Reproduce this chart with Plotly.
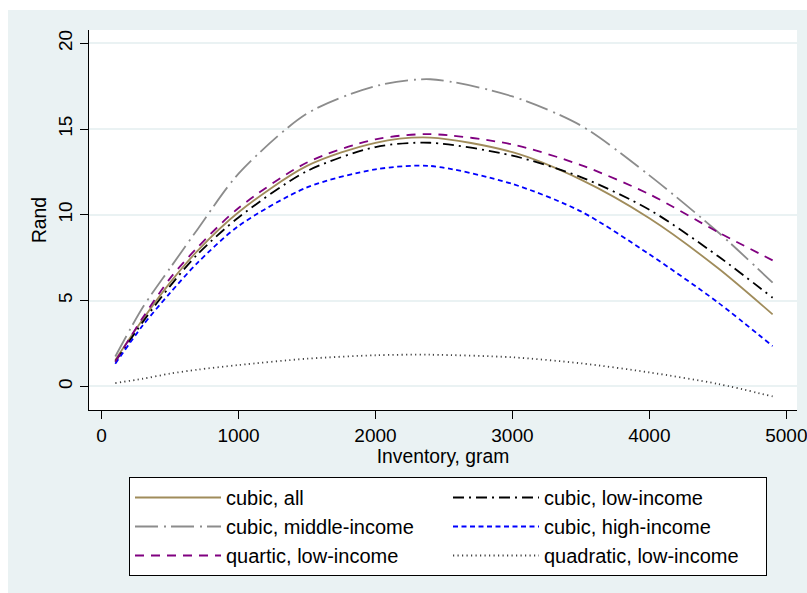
import plotly.graph_objects as go

inventory = [100, 300, 500, 700, 1000, 1500, 2000, 2400, 3000, 3500, 4000, 4500, 4900]

cubic_all = [1.55, 3.9, 6.05, 7.9, 10.15, 12.85, 14.2, 14.5, 13.65, 12.05, 9.8, 6.9, 4.2]
cubic_low = [1.45, 3.75, 5.85, 7.7, 9.85, 12.55, 13.95, 14.2, 13.45, 12.2, 10.3, 7.6, 5.17]
cubic_middle = [1.75, 4.6, 6.9, 9.15, 12.4, 15.9, 17.5, 17.9, 16.9, 15.2, 12.3, 9.0, 6.05]
cubic_high = [1.33, 3.55, 5.45, 7.2, 9.35, 11.6, 12.65, 12.85, 11.8, 10.2, 7.7, 4.9, 2.35]
quartic_low = [1.45, 4.0, 6.3, 8.1, 10.4, 13.05, 14.4, 14.7, 14.1, 12.9, 11.2, 9.0, 7.35]
quadratic_low = [0.2, 0.45, 0.75, 0.98, 1.25, 1.62, 1.82, 1.85, 1.7, 1.35, 0.82, 0.15, -0.58]

x_ticks = [0, 1000, 2000, 3000, 4000, 5000]
y_ticks = [0, 5, 10, 15, 20]

series = [
    ("cubic, all", cubic_all, "#A08C5B", "solid"),
    ("cubic, low-income", cubic_low, "#000000", "11px,5px,2px,5px"),
    ("cubic, middle-income", cubic_middle, "#8C8C8C", "23px,6px,2px,5px"),
    ("cubic, high-income", cubic_high, "#0000FF", "5px,3.5px"),
    ("quartic, low-income", quartic_low, "#800080", "9px,7px"),
    ("quadratic, low-income", quadratic_low, "#404040", "1.2px,3.3px"),
]

fig = go.Figure()
for name, vals, color, dash in series:
    fig.add_trace(go.Scatter(
        x=inventory, y=vals, mode="lines", name=name,
        line=dict(color=color, width=1.8, dash=dash, shape="spline", smoothing=0.8),
    ))

BG = "#EAF2F3"
FONT = "Liberation Sans, Arial, sans-serif"
W, H = 807, 593
ml, mr, mt, mb = 89, 10, 30, 183
pw, ph = W - ml - mr, H - mt - mb

fig.update_layout(
    width=W, height=H,
    margin=dict(l=ml, r=mr, t=mt, b=mb, pad=0, autoexpand=False),
    paper_bgcolor=BG,
    plot_bgcolor="white",
    font=dict(family=FONT, size=19, color="black"),
    showlegend=True,
    legend=dict(
        orientation="h",
        xref="container", yref="container",
        x=129 / W, xanchor="left",
        y=(H - 477) / H, yanchor="top",
        bgcolor="white", bordercolor="black", borderwidth=1,
        font=dict(family=FONT, size=20, color="black"),
        entrywidth=217, entrywidthmode="pixels",
        traceorder="normal",
        itemwidth=86,
    ),
    xaxis=dict(
        range=[-92, 5078],
        tickvals=x_ticks,
        ticks="outside", ticklen=8, tickwidth=1, tickcolor="black",
        ticklabeloverflow="allow",
        showline=True, linecolor="black", linewidth=1.2,
        showgrid=False, zeroline=False,
        title=dict(text="Inventory, gram", font=dict(size=19.3), standoff=0),
    ),
    yaxis=dict(
        range=[-1.37, 20.77],
        tickvals=y_ticks,
        tickangle=-90,
        ticks="outside", ticklen=8, tickwidth=1, tickcolor="black",
        showline=True, linecolor="black", linewidth=1.2,
        showgrid=True, gridcolor=BG, gridwidth=1.5,
        zeroline=False,
        title=dict(text="Rand", font=dict(size=19.3), standoff=3),
    ),
    shapes=[
        dict(type="rect", xref="paper", yref="paper",
             x0=-ml / pw, x1=(8 - ml) / pw, y0=-mb / ph, y1=1 + mt / ph,
             fillcolor="white", line=dict(width=0), layer="below"),
        dict(type="rect", xref="paper", yref="paper",
             x0=-ml / pw, x1=1 + mr / pw, y0=1 + (mt - 10) / ph, y1=1 + mt / ph,
             fillcolor="white", line=dict(width=0), layer="below"),
    ],
)

fig.write_html("out.html")
